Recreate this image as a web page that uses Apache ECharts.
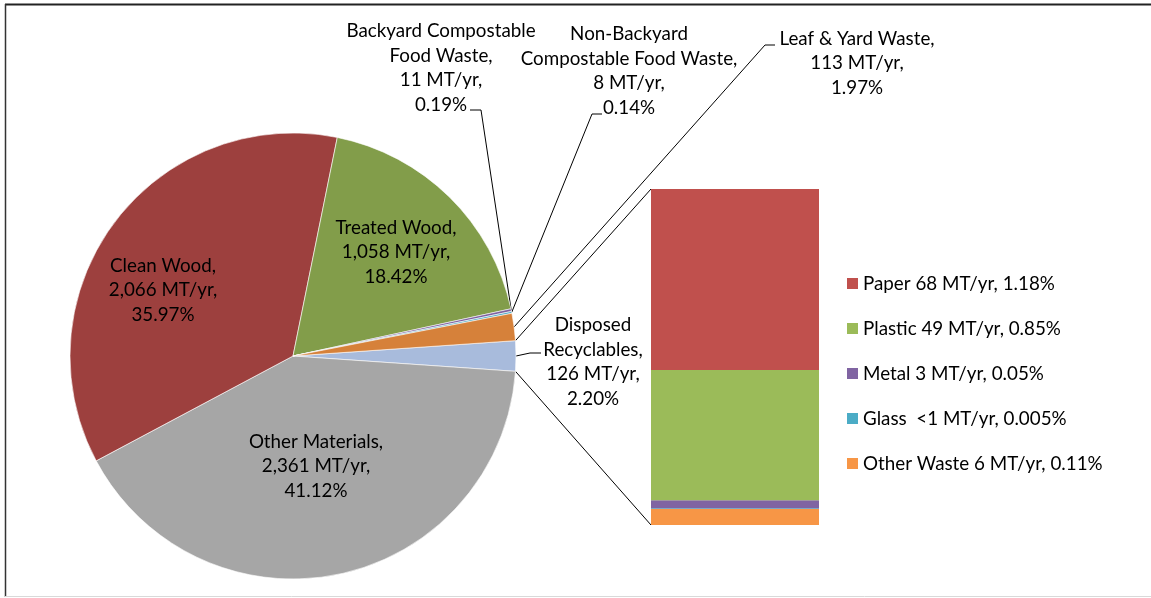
<!DOCTYPE html>
<html>
<head>
<meta charset="utf-8">
<title>Waste composition</title>
<script src="https://cdn.jsdelivr.net/npm/echarts@6/dist/echarts.min.js"></script>
<style>
html, body { margin: 0; padding: 0; background: #fff; }
#chart { width: 1151px; height: 598px; }
</style>
</head>
<body>
<div id="chart"></div>
<script>
// main pie, clockwise, starting with the slice that is broken out into the bar
const pieNames = ['Disposed Recyclables', 'Other Materials', 'Clean Wood', 'Treated Wood',
  'Backyard Compostable Food Waste', 'Non-Backyard Compostable Food Waste', 'Leaf & Yard Waste'];
const pieLabelNames = ['Disposed\nRecyclables', 'Other Materials', 'Clean Wood', 'Treated Wood',
  'Backyard Compostable\nFood Waste', 'Non-Backyard\nCompostable Food Waste', 'Leaf & Yard Waste'];
const pieValues = [126, 2361, 2066, 1058, 11, 8, 113];
const piePercents = [2.20, 41.12, 35.97, 18.42, 0.19, 0.14, 1.97];
const pieColors = ['#A8BBDC', '#A6A6A6', '#9D403E', '#829D4A', '#7D60A0', '#4BACC6', '#D6813A'];

// breakdown of disposed recyclables (stacked bottom-up in reverse order below)
const barNames = ['Paper', 'Plastic', 'Metal', 'Glass', 'Other Waste'];
const barValues = [68, 49, 3, 0.3, 6];
const barAmounts = ['68', '49', '3', ' <1', '6'];
const barPercents = ['1.18', '0.85', '0.05', '0.005', '0.11'];
const barColors = ['#C0504D', '#9BBB59', '#8064A2', '#4BACC6', '#F79646'];

const FONT = 'Lato';
const FONT_SIZE = 18.8;
const cx = 293, cy = 356, radius = 223;
const gridLeft = 651, gridTop = 189, gridWidth = 168, gridHeight = 336;

const pieTotal = pieValues.reduce((a, b) => a + b, 0);
const barTotal = barValues.reduce((a, b) => a + b, 0);
// centre the broken-out slice on 3 o'clock
const startAngle = pieValues[0] / pieTotal * 180;

// text block centres
const labelPos = [[593, 362], [316, 466], [163, 290], [396, 252], [441, 68], [629, 71], [857, 63]];
// leader lines: [label end, elbow], then to the slice edge
const leaderStart = {
  0: [[541, 353], [530, 353]],
  4: [[470, 110], [481, 110]],
  5: [[602, 114], [592, 114]],
  6: [[775, 45], [765, 45]]
};

function edgePoint(deg) {
  const a = deg * Math.PI / 180;
  return [cx + radius * Math.cos(a), cy + radius * Math.sin(a)];
}
function midAngle(i) {
  let cum = 0;
  for (let k = 0; k < i; k++) cum += pieValues[k];
  return -startAngle + (cum + pieValues[i] / 2) / pieTotal * 360;
}

const chart = echarts.init(document.getElementById('chart'));

const option = {
  animation: false,
  grid: { left: gridLeft, top: gridTop, width: gridWidth, height: gridHeight },
  xAxis: { type: 'category', data: ['Disposed Recyclables'], show: false },
  yAxis: { type: 'value', min: 0, max: barTotal, show: false },
  legend: {
    orient: 'vertical',
    left: 842,
    top: 269,
    icon: 'rect',
    itemWidth: 11,
    itemHeight: 11,
    itemGap: 26,
    data: barNames,
    selectedMode: false,
    formatter: name => {
      const i = barNames.indexOf(name);
      return name + ' ' + barAmounts[i] + ' MT/yr, ' + barPercents[i] + '%';
    },
    textStyle: { fontFamily: FONT, fontSize: FONT_SIZE, color: '#000' }
  },
  series: [
    {
      type: 'pie',
      center: [cx, cy],
      radius: radius,
      startAngle: startAngle,
      clockwise: true,
      silent: true,
      avoidLabelOverlap: false,
      data: pieNames.map((n, i) => ({ name: n, value: pieValues[i], itemStyle: { color: pieColors[i] } })),
      itemStyle: { borderColor: '#fff', borderWidth: 0.6 },
      label: {
        show: true,
        position: 'outside',
        formatter: p => pieLabelNames[p.dataIndex] + ',\n' +
          pieValues[p.dataIndex].toLocaleString('en-US') + ' MT/yr,\n' +
          piePercents[p.dataIndex].toFixed(2) + '%',
        fontFamily: FONT,
        fontSize: FONT_SIZE,
        lineHeight: 24.5,
        color: '#000',
        align: 'center'
      },
      labelLine: { show: false },
      labelLayout: p => ({
        x: labelPos[p.dataIndex][0],
        y: labelPos[p.dataIndex][1],
        align: 'center',
        verticalAlign: 'middle'
      })
    }
  ].concat(barNames.map((n, i) => i).reverse().map(i => ({
    name: barNames[i],
    type: 'bar',
    stack: 'breakdown',
    barWidth: '100%',
    silent: true,
    data: [barValues[i]],
    itemStyle: { color: barColors[i] }
  })))
};

chart.setOption(option);

// frame, leader lines and pie-to-bar connectors
const topY = chart.convertToPixel({ gridIndex: 0 }, [0, barTotal])[1];
const botY = chart.convertToPixel({ gridIndex: 0 }, [0, 0])[1];
const upper = edgePoint(-startAngle);
const lower = edgePoint(startAngle);

const graphics = [
  { type: 'line', shape: { x1: 5, y1: 4.5, x2: 1151, y2: 4.5 }, style: { stroke: '#222', lineWidth: 2 } },
  { type: 'line', shape: { x1: 5.5, y1: 4, x2: 5.5, y2: 597 }, style: { stroke: '#333', lineWidth: 1.5 } },
  { type: 'line', shape: { x1: 5, y1: 596.5, x2: 1151, y2: 596.5 }, style: { stroke: '#d9d9d9', lineWidth: 1 } },
  { type: 'line', shape: { x1: upper[0], y1: upper[1], x2: gridLeft, y2: topY }, style: { stroke: '#000', lineWidth: 1 } },
  { type: 'line', shape: { x1: lower[0], y1: lower[1], x2: gridLeft, y2: botY }, style: { stroke: '#000', lineWidth: 1 } }
];
Object.keys(leaderStart).forEach(k => {
  const i = +k;
  const pts = leaderStart[i].concat([edgePoint(midAngle(i))]);
  graphics.push({ type: 'polyline', shape: { points: pts }, style: { stroke: '#000', lineWidth: 1, fill: null } });
});
chart.setOption({ graphic: graphics });
</script>
</body>
</html>
